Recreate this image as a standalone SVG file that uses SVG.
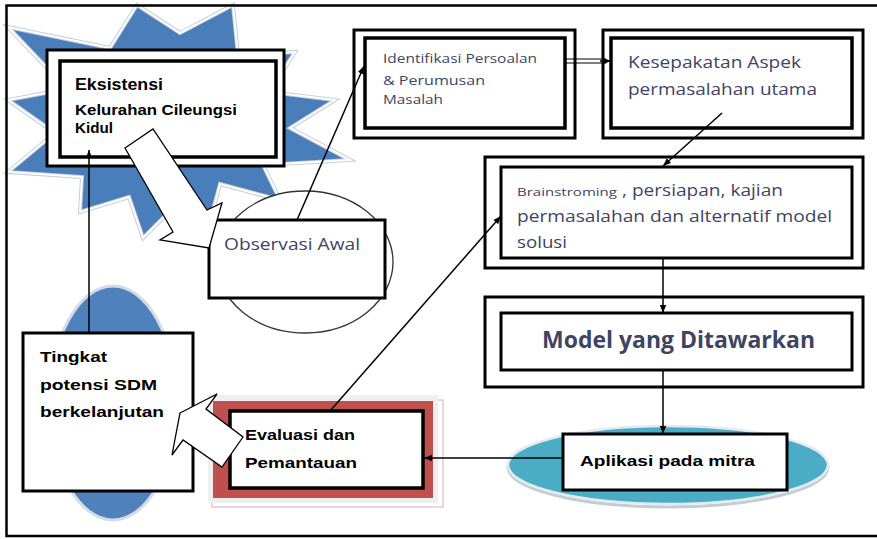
<svg xmlns="http://www.w3.org/2000/svg" width="877" height="539" viewBox="0 0 877 539">
<defs>
<marker id="ah" viewBox="0 0 10 10" refX="10" refY="5" markerWidth="8" markerHeight="8" markerUnits="userSpaceOnUse" orient="auto"><path d="M0,1 L10,5 L0,9 Z" fill="#000"/></marker>
<style>
.box{fill:#fff;stroke:#000;stroke-width:3}
.ibox{fill:#fff;stroke:#000;stroke-width:3.5}
.con{fill:none;stroke:#000;stroke-width:1.5}
.blk{fill:#fff;stroke:#000;stroke-width:1.3;stroke-linejoin:miter}
.bt{font-family:"Liberation Sans",Arial,sans-serif;font-weight:bold;fill:#000}
.ct{font-family:"Open Sans","Noto Sans",sans-serif;fill:#3f4463}
.star{fill:#4a7ebb;stroke:#c5cdd8;stroke-width:4}
</style>
</defs>
<rect width="877" height="539" fill="#fff"/>

<g id="star">
<polygon class="star" points="8,27 110,48 137,5 180,33 233,5 238,55 295,52 269,92 335,100 290,128 350,160 263,165 280,200 220,184 212,214 178,203 143,238 129,197 80,212 82,177 8,172 55,133 8,100 67,89"/>
<polygon points="8,27 110,48 137,5 180,33 233,5 238,55 295,52 269,92 335,100 290,128 350,160 263,165 280,200 220,184 212,214 178,203 143,238 129,197 80,212 82,177 8,172 55,133 8,100 67,89" fill="none" stroke="#ffffff" stroke-width="2"/>
</g>

<g id="node-eksistensi">
<rect class="box" x="47" y="50" width="237" height="116"/>
<rect class="ibox" x="60" y="61" width="216" height="96"/>
<text class="bt" x="75" y="90" font-size="16" textLength="88" lengthAdjust="spacingAndGlyphs">Eksistensi</text>
<text class="bt" x="75" y="115" font-size="15" textLength="162" lengthAdjust="spacingAndGlyphs">Kelurahan Cileungsi</text>
<text class="bt" x="75" y="133" font-size="15" textLength="38" lengthAdjust="spacingAndGlyphs">Kidul</text>
</g>

<g id="node-observasi">
<ellipse cx="305" cy="262" rx="88" ry="71" fill="#fff" stroke="#333" stroke-width="1.3"/>
<rect class="box" x="209" y="220" width="176" height="78"/>
<text class="ct" x="224" y="250" font-size="17" textLength="136" lengthAdjust="spacingAndGlyphs">Observasi Awal</text>
</g>

<g id="node-identifikasi">
<rect class="box" x="354" y="30" width="221" height="108"/>
<rect class="ibox" x="365" y="38" width="200" height="90"/>
<text class="ct" x="383" y="63" font-size="12.5" textLength="154" lengthAdjust="spacingAndGlyphs" fill="#574656">Identifikasi Persoalan</text>
<text class="ct" x="383" y="85" font-size="12.5" textLength="102" lengthAdjust="spacingAndGlyphs" fill="#574656">&amp;  Perumusan</text>
<text class="ct" x="383" y="104" font-size="12.5" textLength="60" lengthAdjust="spacingAndGlyphs" fill="#574656">Masalah</text>
</g>

<g id="node-kesepakatan">
<rect class="box" x="603" y="30" width="260" height="108"/>
<rect class="ibox" x="611" y="38" width="241" height="90"/>
<text class="ct" x="628" y="68" font-size="17" textLength="173" lengthAdjust="spacingAndGlyphs">Kesepakatan Aspek</text>
<text class="ct" x="628" y="95" font-size="17" textLength="189" lengthAdjust="spacingAndGlyphs">permasalahan utama</text>
</g>

<g id="node-brainstorming">
<rect class="box" x="485" y="157" width="378" height="111"/>
<rect class="box" x="501" y="167" width="351" height="91"/>
<text class="ct" x="517" y="196" font-size="11" textLength="100" lengthAdjust="spacingAndGlyphs">Brainstroming</text>
<text class="ct" x="622" y="196" font-size="17" textLength="161" lengthAdjust="spacingAndGlyphs">, persiapan, kajian</text>
<text class="ct" x="517" y="222" font-size="17" textLength="315" lengthAdjust="spacingAndGlyphs">permasalahan dan alternatif model</text>
<text class="ct" x="517" y="248" font-size="17" textLength="50" lengthAdjust="spacingAndGlyphs">solusi</text>
</g>

<g id="node-model">
<rect class="box" x="485" y="297" width="378" height="90"/>
<rect class="box" x="501" y="313" width="351" height="57"/>
<text class="ct" x="542" y="348" font-size="23" font-weight="bold" textLength="273" lengthAdjust="spacingAndGlyphs" fill="#1f2540">Model yang Ditawarkan</text>
</g>

<g id="node-aplikasi">
<ellipse cx="668" cy="467" rx="160" ry="40" fill="none" stroke="#c4ccd1" stroke-width="3"/>
<ellipse cx="668" cy="465" rx="160" ry="39" fill="#4bacc6" stroke="#e4eaee" stroke-width="2.5"/>
<rect class="box" x="563" y="434" width="224" height="56"/>
<text class="bt" x="580" y="466" font-size="15" textLength="175" lengthAdjust="spacingAndGlyphs">Aplikasi  pada mitra</text>
</g>

<g id="node-evaluasi">
<rect x="212" y="400" width="231" height="107" fill="none" stroke="#d4aeae" stroke-width="1"/>
<rect x="208" y="395" width="230" height="108" fill="#efefef"/>
<rect x="213" y="401" width="220" height="97" fill="#c0504d"/>
<rect class="ibox" x="230" y="411" width="193" height="77"/>
<text class="bt" x="245" y="440" font-size="15" textLength="110" lengthAdjust="spacingAndGlyphs">Evaluasi dan</text>
<text class="bt" x="245" y="468" font-size="15" textLength="112" lengthAdjust="spacingAndGlyphs">Pemantauan</text>
</g>

<g id="node-tingkat">
<ellipse cx="113" cy="403" rx="63" ry="117" fill="#4f81bd" stroke="#d5dbe4" stroke-width="3"/>
<rect class="box" x="23" y="333" width="170" height="158" stroke-width="2.5"/>
<text class="bt" x="40" y="362" font-size="15" textLength="67" lengthAdjust="spacingAndGlyphs">Tingkat</text>
<text class="bt" x="40" y="390" font-size="15" textLength="117" lengthAdjust="spacingAndGlyphs">potensi  SDM</text>
<text class="bt" x="40" y="417" font-size="15" textLength="124" lengthAdjust="spacingAndGlyphs">berkelanjutan</text>
</g>

<g id="connectors">
<path class="blk" d="M125,148 L153,129 L207,210 L222,203 L209,248 L160,240 L173,232 Z"/>
<path class="blk" d="M180,413 L217,394 L206,409 L243,437 L222,467 L183,440 L172,455 Z"/>
<path class="con" d="M297,220 L364,66" marker-end="url(#ah)"/>
<path fill="none" stroke="#000" stroke-width="1.2" d="M565,59 H606 M565,63 H606"/>
<path class="con" d="M600,61 H611" marker-end="url(#ah)"/>
<path class="con" d="M722,113 L663,166" marker-end="url(#ah)"/>
<path class="con" d="M663,258 V313" marker-end="url(#ah)"/>
<path class="con" d="M663,370 V434" marker-end="url(#ah)"/>
<path class="con" d="M563,458 H424" marker-end="url(#ah)"/>
<path class="con" d="M330,411 L501,216" marker-end="url(#ah)"/>
<path class="con" d="M89,333 V150" marker-end="url(#ah)"/>
</g>

<path id="frame" d="M877,5.5 H6.5 V536 H877" fill="none" stroke="#000" stroke-width="2.5"/>
</svg>
